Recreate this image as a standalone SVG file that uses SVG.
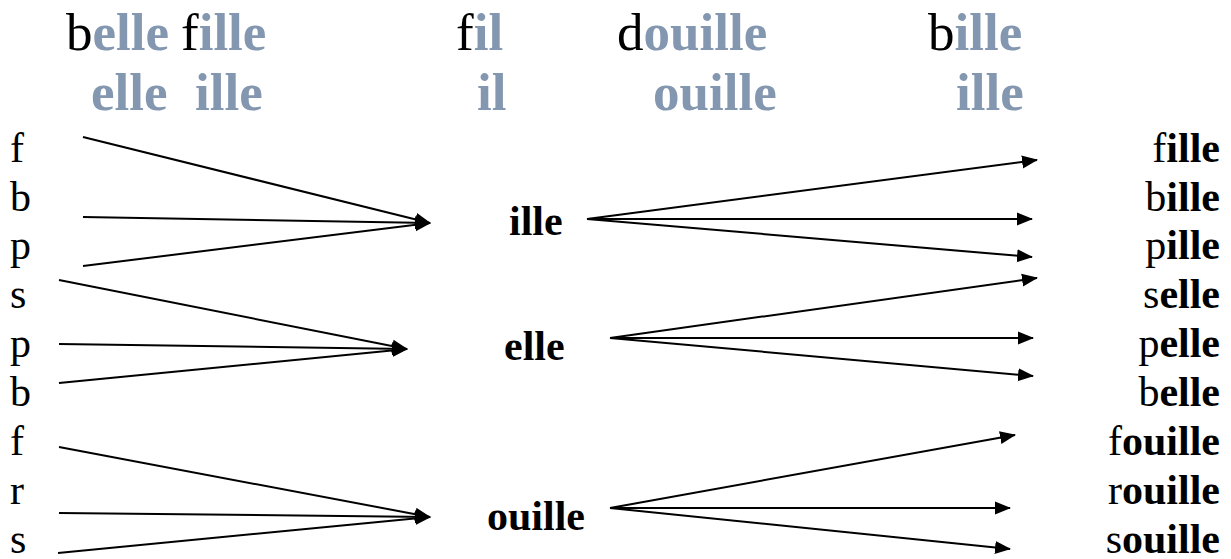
<svg xmlns="http://www.w3.org/2000/svg" width="1231" height="559" viewBox="0 0 1231 559">
<style>
text{font-family:"Liberation Serif","Times New Roman",serif;fill:#000}
.h{font-size:53px}
.t{font-size:42px}
.b{font-weight:bold}
.g{fill:#8497B0;font-weight:bold}
.r{text-anchor:end}
.c line{stroke:#000;stroke-width:2;marker-end:url(#ah)}
</style>
<defs>
<marker id="ah" markerUnits="userSpaceOnUse" markerWidth="16" markerHeight="14" refX="15" refY="6.5" orient="auto" viewBox="0 0 16 13">
<path d="M0,0 L16,6.5 L0,13 z" fill="#000"/>
</marker>
</defs>
<g id="header">
<text class="h" x="66" y="50">b<tspan class="g">elle</tspan></text>
<text class="h" x="181" y="50">f<tspan class="g">ille</tspan></text>
<text class="h" x="456" y="50">f<tspan class="g">il</tspan></text>
<text class="h" x="617" y="50">d<tspan class="g">ouille</tspan></text>
<text class="h" x="928" y="50">b<tspan class="g">ille</tspan></text>
<text class="h g" x="91" y="110">elle</text>
<text class="h g" x="195" y="110">ille</text>
<text class="h g" x="477" y="110">il</text>
<text class="h g" x="653" y="110">ouille</text>
<text class="h g" x="956" y="110">ille</text>
</g>
<g id="left-letters">
<text class="t" x="10" y="162">f</text>
<text class="t" x="10" y="211">b</text>
<text class="t" x="10" y="259">p</text>
<text class="t" x="10" y="308">s</text>
<text class="t" x="10" y="357">p</text>
<text class="t" x="10" y="406">b</text>
<text class="t" x="10" y="455">f</text>
<text class="t" x="10" y="504">r</text>
<text class="t" x="10" y="553">s</text>
</g>
<g id="node-ille"><text class="t b" x="509" y="235">ille</text></g>
<g id="node-elle"><text class="t b" x="504" y="360">elle</text></g>
<g id="node-ouille"><text class="t b" x="487" y="530">ouille</text></g>
<g id="right-words">
<text class="t r" x="1220" y="162">f<tspan class="b">ille</tspan></text>
<text class="t r" x="1220" y="211">b<tspan class="b">ille</tspan></text>
<text class="t r" x="1220" y="259">p<tspan class="b">ille</tspan></text>
<text class="t r" x="1220" y="308">s<tspan class="b">elle</tspan></text>
<text class="t r" x="1220" y="357">p<tspan class="b">elle</tspan></text>
<text class="t r" x="1220" y="406">b<tspan class="b">elle</tspan></text>
<text class="t r" x="1220" y="455">f<tspan class="b">ouille</tspan></text>
<text class="t r" x="1220" y="504">r<tspan class="b">ouille</tspan></text>
<text class="t r" x="1220" y="553">s<tspan class="b">ouille</tspan></text>
</g>
<g id="connectors" class="c">
<line x1="83" y1="137" x2="430" y2="223"/>
<line x1="83" y1="217" x2="430" y2="223"/>
<line x1="83" y1="266" x2="430" y2="223"/>
<line x1="59" y1="280" x2="407" y2="349"/>
<line x1="59" y1="344" x2="407" y2="349"/>
<line x1="59" y1="383" x2="407" y2="349"/>
<line x1="59" y1="447" x2="430" y2="517"/>
<line x1="59" y1="513" x2="430" y2="517"/>
<line x1="58" y1="553" x2="430" y2="517"/>
<line x1="587" y1="219" x2="1037" y2="160"/>
<line x1="587" y1="219" x2="1032" y2="219"/>
<line x1="587" y1="219" x2="1032" y2="257"/>
<line x1="610" y1="338" x2="1037" y2="278"/>
<line x1="610" y1="338" x2="1033" y2="338"/>
<line x1="610" y1="338" x2="1033" y2="376"/>
<line x1="610" y1="508" x2="1015" y2="435"/>
<line x1="610" y1="508" x2="1010" y2="508"/>
<line x1="610" y1="508" x2="1010" y2="549"/>
</g>
</svg>
